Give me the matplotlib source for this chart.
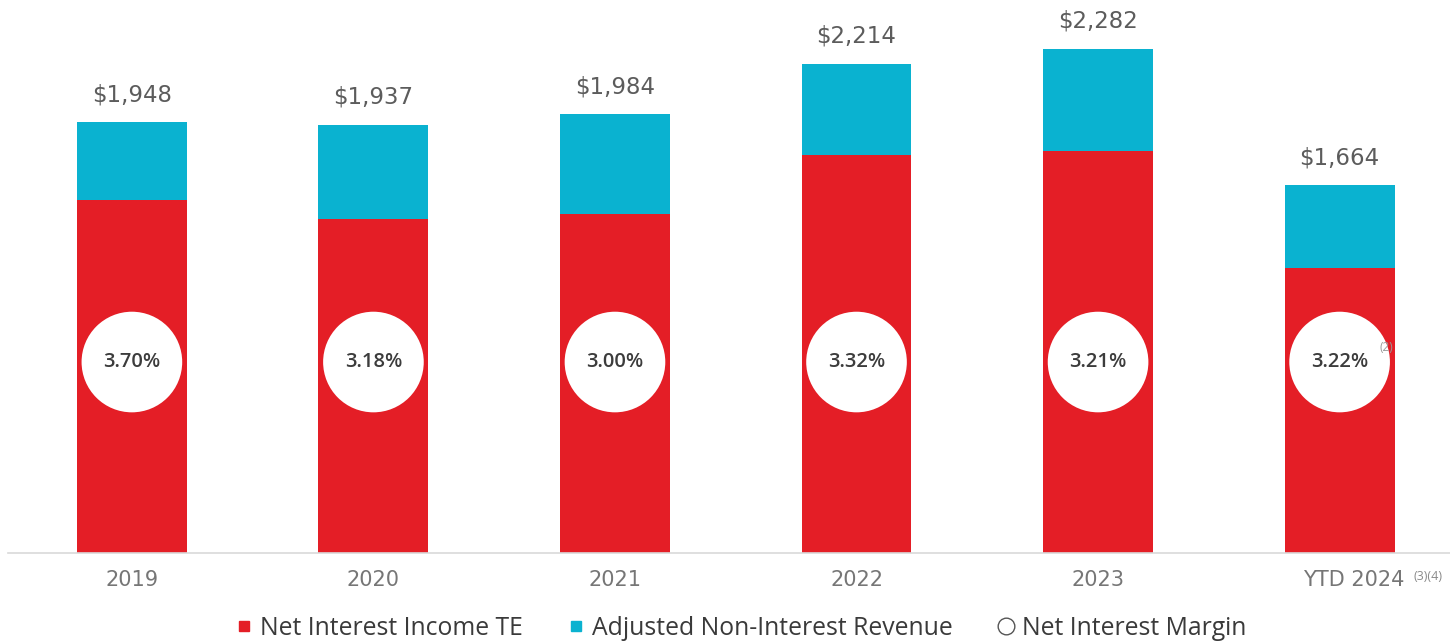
import matplotlib
matplotlib.use("Agg")
import matplotlib.pyplot as plt
from matplotlib.lines import Line2D
from matplotlib.transforms import ScaledTranslation
from matplotlib import font_manager

categories = ["2019", "2020", "2021", "2022", "2023", "YTD 2024"]
net_interest_income = [1599, 1511, 1535, 1802, 1821, 1290]
non_interest_revenue = [349, 426, 449, 412, 461, 374]
totals = [1948, 1937, 1984, 2214, 2282, 1664]
margins = ["3.70%", "3.18%", "3.00%", "3.32%", "3.21%", "3.22%"]

RED = "#E41E26"
BLUE = "#0AB2D0"

names = {f.name for f in font_manager.fontManager.ttflist}
main_font = "Open Sans" if "Open Sans" in names else "DejaVu Sans"
plt.rcParams["font.family"] = [main_font, "DejaVu Sans"]

fig = plt.figure(figsize=(14.5, 6.43), dpi=100)
ax = fig.add_axes([0.0055, 0.14, 0.9945, 0.86])

x = list(range(len(categories)))
width = 0.455
ax.bar(x, net_interest_income, width=width, color=RED, zorder=2)
ax.bar(x, non_interest_revenue, width=width, bottom=net_interest_income,
       color=BLUE, zorder=2)

ax.set_xlim(-0.513, 5.457)
ax.set_ylim(0, 2502)

# total value labels above each stack
for xi, t in zip(x, totals):
    ax.annotate(f"${t:,}", (xi, t), xytext=(0, 11.5), textcoords="offset points",
                ha="center", va="bottom", fontsize=16.5, color="#5c5c5c",
                family="DejaVu Sans")

# net interest margin bubbles
circle_y = 864
ax.scatter(x, [circle_y] * len(x), s=5250, color="white", edgecolors="none",
           zorder=3)
for xi, m in zip(x, margins):
    ax.text(xi, circle_y, m, ha="center", va="center", fontsize=14.5,
            color="#3c3c3c", fontweight="semibold", zorder=4)
ax.annotate("(2)", (x[-1], circle_y), xytext=(29, 6), textcoords="offset points",
            ha="left", va="bottom", fontsize=8.5, color="#9a9a9a", zorder=4)

# category axis
for side in ("top", "right", "left"):
    ax.spines[side].set_visible(False)
ax.spines["bottom"].set_color("#d9d9d9")
ax.spines["bottom"].set_linewidth(1.2)
ax.set_yticks([])
ax.set_xticks(x)
ax.set_xticklabels(categories, fontsize=15, color="#767676", family="DejaVu Sans")
ax.tick_params(axis="x", length=0, pad=12)
last = ax.get_xticklabels()[-1]
last.set_transform(last.get_transform()
                   + ScaledTranslation(10 / 72, 0, fig.dpi_scale_trans))
ax.annotate("(3)(4)", (x[-1], 0), xytext=(53, -17), textcoords="offset points",
            ha="left", va="center", fontsize=9, color="#8a8a8a",
            annotation_clip=False)

handles = [
    Line2D([], [], marker="s", linestyle="none", markersize=7,
           markerfacecolor=RED, markeredgecolor=RED,
           label="Net Interest Income TE"),
    Line2D([], [], marker="s", linestyle="none", markersize=7,
           markerfacecolor=BLUE, markeredgecolor=BLUE,
           label="Adjusted Non-Interest Revenue"),
    Line2D([], [], marker="o", linestyle="none", markersize=12,
           markerfacecolor="white", markeredgecolor="#555555",
           markeredgewidth=1.0, label="Net Interest Margin"),
]
fig.legend(handles=handles, loc="center", bbox_to_anchor=(0.511, 0.023),
           ncol=3, frameon=False, handlelength=0.7, handletextpad=0.3,
           columnspacing=1.8, prop={"size": 17.8}, labelcolor="#3a3a3a")

fig.savefig("out.png", dpi=100, facecolor="white")
